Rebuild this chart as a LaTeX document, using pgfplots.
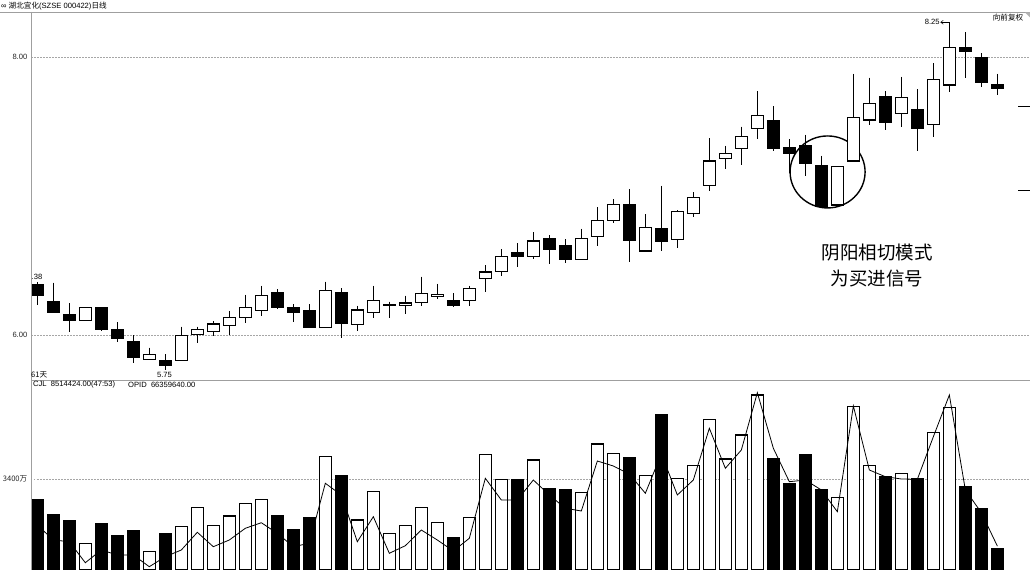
\documentclass[border=0pt]{standalone}
\usepackage{fontspec}
\setmainfont{Liberation Sans}
\newfontfamily\cjk{Noto Sans CJK SC}
\usepackage{pgfplots}
\pgfplotsset{compat=1.18}
\usepackage{pgfplotstable}
\usetikzlibrary{arrows.meta}

\pgfplotstableread{
i o h l c
0 6.36 6.38 6.216 6.283
1 6.24 6.376 6.156 6.163
2 6.149 6.228 6.024 6.103
3 6.103 6.196 6.103 6.196
4 6.196 6.196 6.031 6.043
5 6.041 6.091 5.947 5.973
6 5.950 5.998 5.796 5.835
7 5.825 5.909 5.818 5.861
8 5.813 5.861 5.75 5.784
9 5.815 6.06 5.815 5.998
10 6.002 6.06 5.94 6.041
11 6.024 6.10 5.993 6.079
12 6.067 6.173 6.0 6.127
13 6.127 6.288 6.084 6.196
14 6.178 6.353 6.137 6.286
15 6.302 6.329 6.19 6.196
16 6.196 6.221 6.096 6.163
17 6.173 6.221 6.05 6.053
18 6.055 6.383 6.055 6.319
19 6.307 6.336 5.976 6.084
20 6.077 6.209 6.031 6.180
21 6.163 6.353 6.12 6.245
22 6.215 6.24 6.12 6.22
23 6.209 6.283 6.149 6.23
24 6.235 6.419 6.209 6.30
25 6.28 6.367 6.259 6.29
26 6.245 6.30 6.2 6.211
27 6.245 6.353 6.209 6.336
28 6.408 6.501 6.312 6.453
29 6.455 6.617 6.424 6.563
30 6.595 6.66 6.491 6.563
31 6.563 6.739 6.545 6.676
32 6.693 6.717 6.509 6.617
33 6.645 6.689 6.516 6.545
34 6.545 6.763 6.545 6.693
35 6.707 6.919 6.642 6.825
36 6.822 6.978 6.804 6.940
37 6.942 7.048 6.527 6.683
38 6.604 6.868 6.604 6.775
39 6.768 7.072 6.604 6.671
40 6.688 6.899 6.624 6.89
41 6.876 7.027 6.851 6.988
42 7.077 7.415 7.038 7.252
43 7.273 7.36 7.192 7.304
44 7.343 7.499 7.223 7.427
45 7.487 7.755 7.41 7.578
46 7.540 7.647 7.326 7.343
47 7.345 7.408 7.163 7.307
48 7.36 7.439 7.144 7.235
49 7.216 7.288 6.92 6.923
50 6.935 7.211 6.935 7.211
51 7.252 7.878 7.252 7.566
52 7.547 7.851 7.511 7.667
53 7.719 7.755 7.475 7.527
54 7.595 7.858 7.494 7.707
55 7.624 7.768 7.326 7.484
56 7.516 7.955 7.422 7.835
57 7.799 8.25 7.75 8.067
58 8.067 8.178 7.847 8.038
59 7.998 8.027 7.782 7.815
60 7.799 7.878 7.727 7.775
}\price

\pgfplotstableread{
i v d m
0 2896 1 2296
1 2536 1 1936
2 2399 1 1895
3 1857 0 1391
4 2320 1 1696
5 2032 1 1576
6 2159 1 1576
7 1655 0 1295
8 2097 1 1535
9 2255 0 1696
10 2721 0 2121
11 2289 0 1775
12 2512 0 1936
13 2817 0 2217
14 2913 0 2351
15 2529 1 2097
16 2176 1 1775
17 2481 1 1857
18 3935 0 3297
19 3489 1 3016
20 2416 0 1895
21 3095 0 2495
22 2097 0 1617
23 2279 0 1799
24 2721 0 2176
25 2361 0 1936
26 1991 1 1672
27 2481 0 1977
28 3983 0 3417
29 3393 0 2896
30 3376 1 2896
31 3856 0 3376
32 3160 1 3016
33 3153 1 2697
34 3081 0 2632
35 4240 0 3832
36 4017 0 3712
37 3904 1 3520
38 3479 0 3057
39 4953 1 4000
40 3417 0 3016
41 3729 0 3376
42 4833 0 4617
43 3880 0 3657
44 4456 0 4096
45 5416 0 5471
46 3880 1 4137
47 3297 1 3335
48 3976 1 3376
49 3153 1 3136
50 2951 0 2615
51 5135 0 5152
52 3729 0 3616
53 3455 1 3455
54 3537 0 3400
55 3400 1 3393
56 4511 0 4415
57 5121 0 5416
58 3215 1 3136
59 2697 1 2591
60 1737 1 1790
}\volume

\pgfplotsset{
  priceax/.style={
    at={(31pt,190pt)}, anchor=south west, scale only axis,
    width=999pt, height=368pt,
    xmin=-0.394, xmax=62.04, ymin=5.676, ymax=8.324,
    axis line style={draw=none}, xtick=\empty, major tick length=0pt,
  },
}
\newcommand{\sm}{\fontsize{7.6}{8.5}\selectfont}

\begin{document}
\begin{tikzpicture}[x=1pt,y=1pt]
\useasboundingbox (0,0) rectangle (1030,570);
\fill[white] (0,0) rectangle (1030,570);

% price panel: grid + wicks
\begin{axis}[priceax,
  ytick={6,8}, ymajorgrids,
  grid style={gray!70, dash pattern=on 1.5pt off 1.5pt, line width=0.6pt},
  yticklabel style={font=\sm, inner sep=0pt, xshift=-3.5pt, text=black!85},
  /pgf/number format/.cd, fixed, fixed zerofill, precision=2, assume math mode=true]
\addplot[only marks, mark=*, mark size=0pt, mark options={draw=none, fill=none},
  error bars/.cd, y dir=minus, y explicit, error mark=none,
  error bar style={black, line width=1.2pt}]
  table[x=i, y=h, y error minus expr={\thisrow{h}-\thisrow{l}}] {\price};
\end{axis}

% price panel: bodies
\begin{axis}[priceax, ytick=\empty, ybar stacked, bar width=0.72]
\addplot[draw=none, fill=none] table[x=i, y expr={min(\thisrow{o},\thisrow{c})}] {\price};
\addplot[fill=black, draw=black, line width=1.1pt]
  table[x=i, y expr={ifthenelse(\thisrow{c}<\thisrow{o}, \thisrow{o}-\thisrow{c}, 0)}] {\price};
\addplot[fill=white, draw=black, line width=1.1pt]
  table[x=i, y expr={ifthenelse(\thisrow{c}<\thisrow{o}, 0, \thisrow{c}-\thisrow{o})}] {\price};
\draw[black, line width=1.4pt] (axis cs:49.39,7.173) ellipse [x radius=37.5pt, y radius=36pt];
\draw[black, line width=0.5pt, -{Straight Barb[length=2.5pt,width=4pt]}] (axis cs:57,8.25) -- ++(-9pt,0pt)
  node[anchor=east, inner sep=0.5pt, font=\sm] {8.25};
\node[anchor=north, inner sep=1pt, font=\sm] at (axis cs:7.95,5.74) {5.75};
\draw[black, line width=1pt] (axis cs:61.3,7.647) -- (axis cs:62.04,7.647);
\draw[black, line width=1pt] (axis cs:61.3,7.038) -- (axis cs:62.04,7.038);
\end{axis}

% volume panel
\begin{axis}[at={(31pt,0pt)}, anchor=south west, scale only axis,
  width=999pt, height=190pt,
  xmin=-0.394, xmax=62.04, ymin=1216, ymax=5776,
  axis line style={draw=none}, xtick=\empty, major tick length=0pt,
  ytick={3400}, yticklabels={3400万}, ymajorgrids,
  grid style={gray!70, dash pattern=on 1.5pt off 1.5pt, line width=0.6pt},
  yticklabel style={font=\cjk\sm, inner sep=0pt, xshift=-3.5pt, text=black!85}]
\addplot[ybar, bar width=0.72, bar shift=0pt, fill=black, draw=black, line width=1.1pt]
  table[x=i, y expr={\thisrow{d}*\thisrow{v}}] {\volume};
\addplot[ybar, bar width=0.72, bar shift=0pt, fill=white, draw=black, line width=1.1pt]
  table[x=i, y expr={(1-\thisrow{d})*\thisrow{v}}] {\volume};
\addplot[black, line width=0.8pt, mark=none] table[x=i, y=m] {\volume};
\end{axis}

% frame lines
\draw[gray!75, line width=0.9pt] (0,558) -- (1030,558);
\draw[gray!75, line width=0.9pt] (31,558) -- (31,0);
\draw[gray!75, line width=0.9pt] (31,190) -- (1030,190);
\fill[gray!60] (1025,557.5) -- (1030,557.5) -- (1030,552.5) -- cycle;

% texts
\node[anchor=west, inner sep=0pt, font=\sm] at (1,564) {∞ {\cjk 湖北宜化}(SZSE 000422){\cjk 日线}};
\node[inner sep=0pt, font=\cjk\sm] at (1008,552) {向前复权};
\node[anchor=west, inner sep=0pt, font=\sm] at (31.5,292.7) {.38};
\node[anchor=west, inner sep=0pt, font=\cjk\sm] at (31,195) {61天};
\node[anchor=west, inner sep=0pt, font=\sm] at (33,185) {CJL\ \ 8514424.00(47:53)};
\node[anchor=west, inner sep=0pt, font=\sm] at (128,185) {OPID\ \ 66359640.00};
\node[inner sep=0pt, font=\cjk\fontsize{18.5}{20}\selectfont] at (877,317) {阴阳相切模式};
\node[inner sep=0pt, font=\cjk\fontsize{18.5}{20}\selectfont] at (877,291) {为买进信号};
\end{tikzpicture}
\end{document}
